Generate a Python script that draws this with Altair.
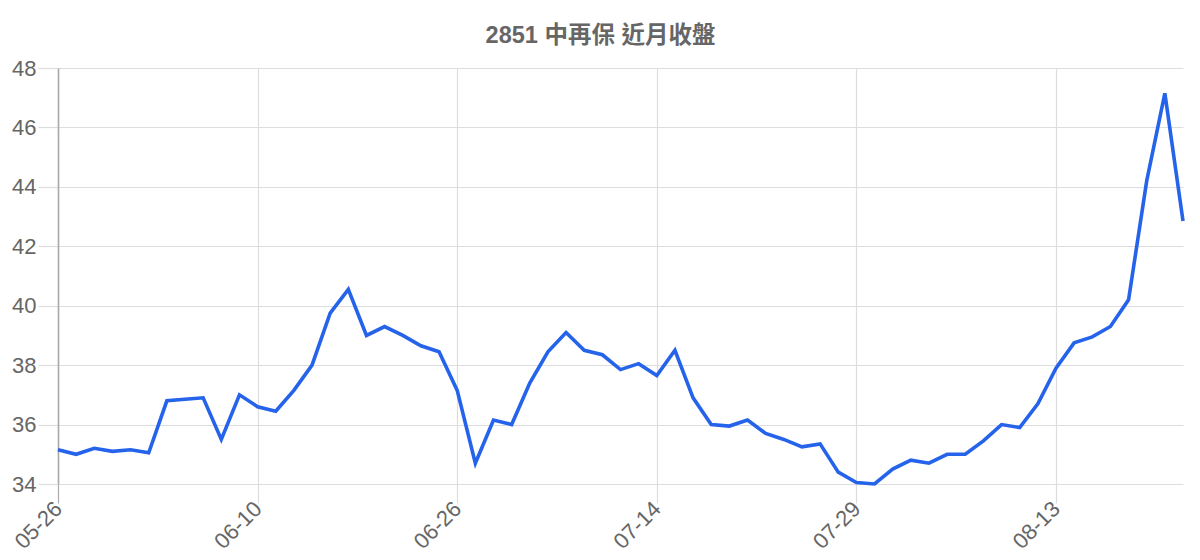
import altair as alt
import pandas as pd

dates = [
    "05-26", "05-27", "05-28", "05-29", "05-30", "06-02", "06-03", "06-04", "06-05", "06-06", "06-09",
    "06-10", "06-11", "06-12", "06-13", "06-16", "06-17", "06-18", "06-19", "06-20", "06-24", "06-25",
    "06-26", "06-27", "06-30", "07-01", "07-02", "07-03", "07-07", "07-08", "07-09", "07-10", "07-11",
    "07-14", "07-15", "07-16", "07-17", "07-18", "07-21", "07-22", "07-23", "07-24", "07-25", "07-28",
    "07-29", "07-30", "07-31", "08-01", "08-04", "08-05", "08-06", "08-07", "08-08", "08-11", "08-12",
    "08-13", "08-14", "08-15", "08-18", "08-19", "08-20", "08-21", "08-22",
]
closes = [
    35.15, 35.0, 35.2, 35.1, 35.15, 35.05, 36.8, 36.85, 36.9, 35.5, 37.0,
    36.6, 36.45, 37.15, 38.0, 39.75, 40.55, 39.0, 39.3, 39.0, 38.65, 38.45,
    37.15, 34.7, 36.15, 36.0, 37.4, 38.45, 39.1, 38.5, 38.35, 37.85, 38.05,
    37.65, 38.5, 36.9, 36.0, 35.95, 36.15, 35.7, 35.5, 35.25, 35.35, 34.4,
    34.05, 34.0, 34.5, 34.8, 34.7, 35.0, 35.0, 35.45, 36.0, 35.9, 36.7,
    37.9, 38.75, 38.95, 39.3, 40.2, 44.2, 47.15, 42.85,
]
tick_dates = ["05-26", "06-10", "06-26", "07-14", "07-29", "08-13"]
y_ticks = [34, 36, 38, 40, 42, 44, 46, 48]
title_text = "2851 中再保 近月收盤"

df = pd.DataFrame({"date": dates, "close": closes})

FONT = "Liberation Sans, Arial, Noto Sans CJK TC, sans-serif"
GRID = "#dddddd"
DOMAIN = "#aaaaaa"

chart = (
    alt.Chart(df)
    .mark_line(color="#2563eb", strokeWidth=3.6, strokeJoin="miter")
    .encode(
        x=alt.X(
            "date:O",
            sort=dates,
            scale=alt.Scale(type="point", padding=0),
            axis=alt.Axis(
                values=tick_dates,
                title=None,
                labelAngle=-45,
                labelAlign="right",
                labelBaseline="middle",
                labelFontSize=22,
                labelColor="#666666",
                labelFont=FONT,
                labelPadding=2,
                tickSize=19,
                tickColor={"condition": {"test": "datum.value == '05-26'", "value": DOMAIN}, "value": GRID},
                tickWidth=1.2,
                grid=True,
                gridColor={"condition": {"test": "datum.value == '05-26'", "value": DOMAIN}, "value": GRID},
                gridWidth=1.2,
                domain=False,
            ),
        ),
        y=alt.Y(
            "close:Q",
            scale=alt.Scale(domain=[34, 48], nice=False, zero=False),
            axis=alt.Axis(
                values=y_ticks,
                title=None,
                labelFontSize=22,
                labelColor="#666666",
                labelFont=FONT,
                labelPadding=2,
                tickSize=20,
                tickColor=GRID,
                tickWidth=1.2,
                grid=True,
                gridColor=GRID,
                gridWidth=1.2,
                domainColor=DOMAIN,
                domainWidth=1.5,
            ),
        ),
    )
    .properties(
        width=1125,
        height=416,
        padding={"left": 50, "top": 60, "right": 9, "bottom": 70},
        autosize=alt.AutoSizeParams(type="none"),
        title=alt.TitleParams(
            text=title_text,
            font=FONT,
            fontSize=23.5,
            fontWeight="bold",
            color="#666666",
            anchor="middle",
            dx=-20,
            offset=10,
        ),
    )
    .configure_view(stroke=None)
)

chart.save("out.html", embed_options={"renderer": "svg", "actions": False})
